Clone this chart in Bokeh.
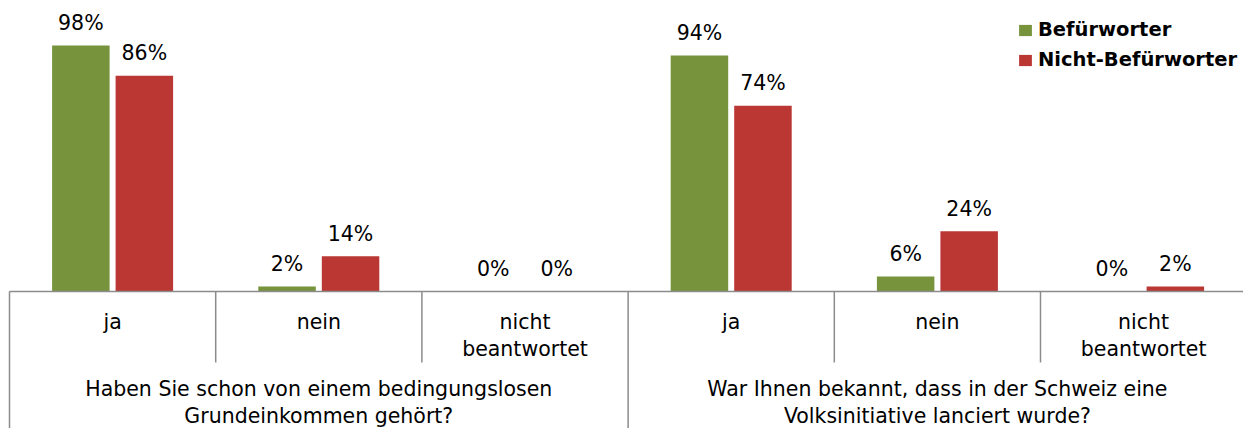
from bokeh.plotting import figure
from bokeh.models import ColumnDataSource, Range1d, Legend, LegendItem
from bokeh.core.properties import value
from bokeh.embed import file_html
from bokeh.resources import INLINE

# ---- data ----
questions = [
    "Haben Sie schon von einem bedingungslosen\nGrundeinkommen gehört?",
    "War Ihnen bekannt, dass in der Schweiz eine\nVolksinitiative lanciert wurde?",
]
answers = ["ja", "nein", "nicht\nbeantwortet"]
series_names = ["Befürworter", "Nicht-Befürworter"]
befuerworter = [98, 2, 0, 94, 6, 0]
nicht_befuerworter = [86, 14, 0, 74, 24, 2]

# ---- geometry (pixels of the canvas) ----
W, H = 1243, 428
CAT_PX = 206.2          # width of one answer category
Y_PX = 2.51             # pixels per percent
BASE_Y = 291            # canvas y of the base line
LEFT_X = 9              # canvas x of the first category border

x0 = -LEFT_X / CAT_PX
x_range = Range1d(x0, x0 + W / CAT_PX)
y_range = Range1d(-(H - BASE_Y) / Y_PX, BASE_Y / Y_PX)


def ypx(canvas_y):
    return (BASE_Y - canvas_y) / Y_PX


FONT = "DejaVu Sans"
GREEN = "#77933C"
RED = "#BA3734"

p = figure(width=W, height=H, x_range=x_range, y_range=y_range,
           output_backend="svg", toolbar_location=None,
           x_axis_location=None, y_axis_location=None, min_border=0)
p.outline_line_color = None
p.xgrid.visible = False
p.ygrid.visible = False
p.background_fill_color = "white"
p.border_fill_color = "white"

n = len(befuerworter)
centers = [i + 0.5 for i in range(n)]
off = 31.75 / CAT_PX
bw = 57.5 / CAT_PX
lab_off = 22.5 / Y_PX

src = ColumnDataSource(dict(
    x=centers,
    xg=[c - off for c in centers],
    xr=[c + off for c in centers],
    g=befuerworter,
    r=nicht_befuerworter,
    gl=[f"{v}%" for v in befuerworter],
    rl=[f"{v}%" for v in nicht_befuerworter],
    gy=[v + lab_off for v in befuerworter],
    ry=[v + lab_off for v in nicht_befuerworter],
))

rg = p.vbar(x="xg", top="g", bottom=0, width=bw, source=src,
            fill_color=GREEN, line_color=None)
rr = p.vbar(x="xr", top="r", bottom=0, width=bw, source=src,
            fill_color=RED, line_color=None)

lab_kw = dict(text_font=value(FONT), text_font_size="20.5px", text_color="#000000",
              text_align="center", text_baseline="alphabetic")
p.text(x="xg", y="gy", text="gl", source=src, **lab_kw)
p.text(x="xr", y="ry", text="rl", source=src, **lab_kw)

# base line (category axis) and separators
AX = "#8C8C8C"
p.segment(x0=[0], y0=[0], x1=[x_range.end], y1=[0], line_color=AX, line_width=1.5)
long_b = [0, len(answers)]
short_b = [b for b in range(1, n) if b not in long_b]
p.segment(x0=long_b, y0=[0] * len(long_b), x1=long_b, y1=[y_range.start] * len(long_b),
          line_color=AX, line_width=1.5)
p.segment(x0=short_b, y0=[0] * len(short_b), x1=short_b, y1=[ypx(362)] * len(short_b),
          line_color=AX, line_width=1.5)

# category labels
cat_src = ColumnDataSource(dict(x=centers, y=[ypx(309)] * n, t=answers * len(questions)))
p.text(x="x", y="y", text="t", source=cat_src, text_font=value(FONT),
       text_font_size="20.5px", text_color="#000000", text_align="center",
       text_baseline="top", text_line_height=1.15)

# question labels
q_src = ColumnDataSource(dict(
    x=[len(answers) * (k + 0.5) for k in range(len(questions))],
    y=[ypx(376)] * len(questions), t=questions))
p.text(x="x", y="y", text="t", source=q_src, text_font=value(FONT),
       text_font_size="20.5px", text_color="#000000", text_align="center",
       text_baseline="top", text_line_height=1.15)

legend = Legend(items=[LegendItem(label=series_names[0], renderers=[rg]),
                       LegendItem(label=series_names[1], renderers=[rr])],
                location=(1017, 357), orientation="vertical",
                glyph_width=16, glyph_height=14, label_standoff=5,
                label_text_font=FONT, label_text_font_size="19.5px",
                label_text_font_style="bold", label_text_color="#000000",
                label_height=22, spacing=7, padding=0, margin=0,
                border_line_color=None, background_fill_alpha=0)
p.add_layout(legend)

open("out.html", "w").write(file_html(p, INLINE))
